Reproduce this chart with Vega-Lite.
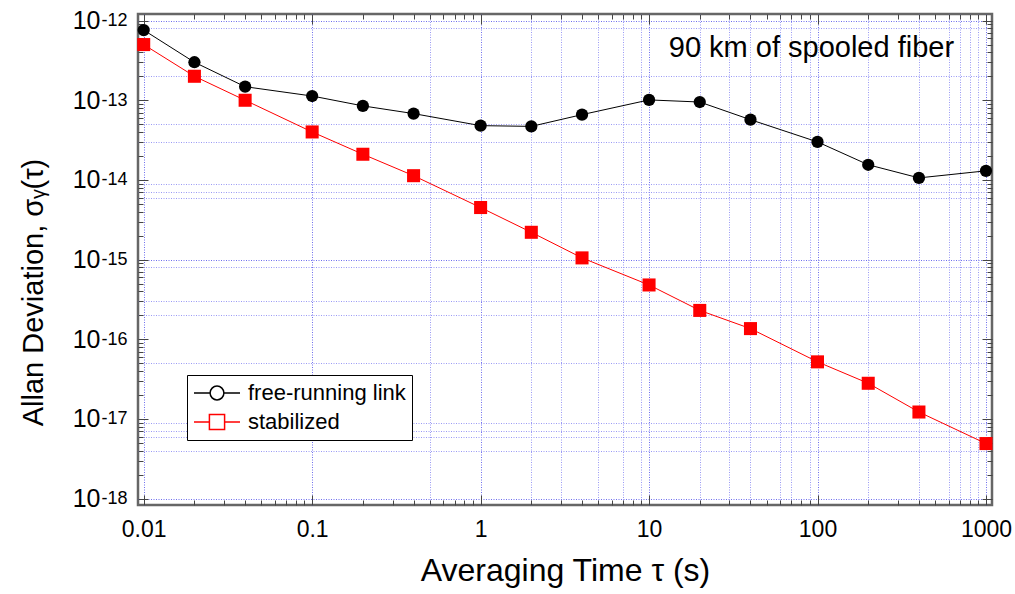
{
  "$schema": "https://vega.github.io/schema/vega-lite/v6.json",
  "width": 854,
  "height": 491,
  "autosize": {"type": "none"},
  "padding": {"left": 138, "top": 14, "right": 23, "bottom": 89},
  "background": "white",
  "config": {
    "font": "Liberation Sans",
    "view": {"stroke": "#666666", "strokeWidth": 2.5}
  },
  "data": {
    "values": [
      {"tau": 0.01, "sigma": 7.6e-13, "series": "free-running link"},
      {"tau": 0.02, "sigma": 3.0e-13, "series": "free-running link"},
      {"tau": 0.04, "sigma": 1.48e-13, "series": "free-running link"},
      {"tau": 0.1, "sigma": 1.13e-13, "series": "free-running link"},
      {"tau": 0.2, "sigma": 8.5e-14, "series": "free-running link"},
      {"tau": 0.4, "sigma": 6.8e-14, "series": "free-running link"},
      {"tau": 1, "sigma": 4.8e-14, "series": "free-running link"},
      {"tau": 2, "sigma": 4.7e-14, "series": "free-running link"},
      {"tau": 4, "sigma": 6.6e-14, "series": "free-running link"},
      {"tau": 10, "sigma": 1.01e-13, "series": "free-running link"},
      {"tau": 20, "sigma": 9.5e-14, "series": "free-running link"},
      {"tau": 40, "sigma": 5.7e-14, "series": "free-running link"},
      {"tau": 100, "sigma": 3.0e-14, "series": "free-running link"},
      {"tau": 200, "sigma": 1.55e-14, "series": "free-running link"},
      {"tau": 400, "sigma": 1.06e-14, "series": "free-running link"},
      {"tau": 1000, "sigma": 1.3e-14, "series": "free-running link"},
      {"tau": 0.01, "sigma": 5.0e-13, "series": "stabilized"},
      {"tau": 0.02, "sigma": 2.0e-13, "series": "stabilized"},
      {"tau": 0.04, "sigma": 1.0e-13, "series": "stabilized"},
      {"tau": 0.1, "sigma": 4.0e-14, "series": "stabilized"},
      {"tau": 0.2, "sigma": 2.1e-14, "series": "stabilized"},
      {"tau": 0.4, "sigma": 1.13e-14, "series": "stabilized"},
      {"tau": 1, "sigma": 4.5e-15, "series": "stabilized"},
      {"tau": 2, "sigma": 2.2e-15, "series": "stabilized"},
      {"tau": 4, "sigma": 1.05e-15, "series": "stabilized"},
      {"tau": 10, "sigma": 4.8e-16, "series": "stabilized"},
      {"tau": 20, "sigma": 2.3e-16, "series": "stabilized"},
      {"tau": 40, "sigma": 1.36e-16, "series": "stabilized"},
      {"tau": 100, "sigma": 5.2e-17, "series": "stabilized"},
      {"tau": 200, "sigma": 2.8e-17, "series": "stabilized"},
      {"tau": 400, "sigma": 1.22e-17, "series": "stabilized"},
      {"tau": 1000, "sigma": 4.9e-18, "series": "stabilized"}
    ]
  },
  "resolve": {"axis": {"x": "independent", "y": "independent"}},
  "layer": [
    {
      "transform": [{"filter": "datum.series === 'free-running link'"}],
      "mark": {"type": "line", "strokeWidth": 1, "clip": true, "color": "black"},
      "encoding": {
        "x": {
          "field": "tau", "type": "quantitative",
          "scale": {"type": "log", "domain": [0.00925, 1086], "nice": false},
          "axis": {
            "orient": "bottom",
            "title": "Averaging Time τ (s)",
            "titleFontSize": 32, "titleFontWeight": "normal", "titleColor": "black", "titlePadding": 9,
            "values": [0.01,0.02,0.03,0.04,0.05,0.06,0.07,0.08,0.09,0.1,0.2,0.3,0.4,0.5,0.6,0.7,0.8,0.9,1,2,3,4,5,6,7,8,9,10,20,30,40,50,60,70,80,90,100,200,300,400,500,600,700,800,900,1000],
            "labelExpr": "abs(log(datum.value)/LN10 - round(log(datum.value)/LN10)) < 1e-6 ? format(datum.value, '~g') : ''",
            "labelFontSize": 23, "labelColor": "black", "labelPadding": 23, "labelFlush": false, "labelOverlap": false,
            "domain": false,
            "grid": true,
            "gridColor": {"condition": {"test": "abs(log(datum.value)/LN10 - round(log(datum.value)/LN10)) < 1e-6", "value": "#6f6fee"}, "value": "#9a9af5"},
            "gridOpacity": {"condition": {"test": "indexof([0.01,0.1,0.5,1,2,3,5,7,9,10,20,30,40,60,70,90,100,200,400,600,700,800,900,1000], datum.value) >= 0", "value": 1}, "value": 0},
            "gridDash": [1, 1.5],
            "gridWidth": 1,
            "tickColor": "#444444",
            "tickSize": {"condition": {"test": "abs(log(datum.value)/LN10 - round(log(datum.value)/LN10)) < 1e-6", "value": -10}, "value": -5},
            "tickWidth": 1
          }
        },
        "y": {
          "field": "sigma", "type": "quantitative",
          "scale": {"type": "log", "domain": [8.3e-19, 1.21e-12], "nice": false},
          "axis": {
            "orient": "left",
            "title": "Allan Deviation, σᵧ(τ)",
            "titleFontSize": 29, "titleFontWeight": "normal", "titleColor": "black", "titlePadding": 24, "titleY": 278,
            "values": [1e-18,2e-18,3e-18,4e-18,5e-18,6e-18,7e-18,8e-18,9e-18,1e-17,2e-17,3e-17,4e-17,5e-17,6e-17,7e-17,8e-17,9e-17,1e-16,2e-16,3e-16,4e-16,5e-16,6e-16,7e-16,8e-16,9e-16,1e-15,2e-15,3e-15,4e-15,5e-15,6e-15,7e-15,8e-15,9e-15,1e-14,2e-14,3e-14,4e-14,5e-14,6e-14,7e-14,8e-14,9e-14,1e-13,2e-13,3e-13,4e-13,5e-13,6e-13,7e-13,8e-13,9e-13,1e-12],
            "labelExpr": "abs(log(datum.value)/LN10 - round(log(datum.value)/LN10)) < 1e-6 ? '10' : ''",
            "labelFontSize": 25, "labelColor": "black", "labelPadding": 48, "labelFlush": false, "labelOverlap": false, "labelBaseline": "middle",
            "domain": false,
            "grid": true,
            "gridColor": {"condition": {"test": "abs(log(datum.value)/LN10 - round(log(datum.value)/LN10)) < 1e-6", "value": "#6f6fee"}, "value": "#9a9af5"},
            "gridOpacity": {"condition": {"test": "indexof([1e-12,8e-13,2e-13,5e-14,3e-14,9e-15,7e-15,6e-15,1e-15,8e-16,3e-16,2e-16,5e-17,9e-18,7e-18,6e-18,4e-18,1e-18], datum.value) >= 0", "value": 1}, "value": 0},
            "gridDash": [1, 1.5],
            "gridWidth": 1,
            "tickColor": "#444444",
            "tickSize": {"condition": {"test": "abs(log(datum.value)/LN10 - round(log(datum.value)/LN10)) < 1e-6", "value": -10}, "value": -5},
            "tickWidth": 1
          }
        }
      }
    },
    {
      "transform": [{"filter": "datum.series === 'stabilized'"}],
      "mark": {"type": "line", "strokeWidth": 1, "clip": true, "color": "red"},
      "encoding": {
        "x": {"field": "tau", "type": "quantitative", "axis": null},
        "y": {"field": "sigma", "type": "quantitative", "axis": null}
      }
    },
    {
      "transform": [{"filter": "datum.series === 'free-running link'"}],
      "mark": {"type": "point", "shape": "circle", "filled": true, "opacity": 1, "size": 150, "color": "black"},
      "encoding": {
        "x": {"field": "tau", "type": "quantitative", "axis": null},
        "y": {"field": "sigma", "type": "quantitative", "axis": null}
      }
    },
    {
      "transform": [{"filter": "datum.series === 'stabilized'"}],
      "mark": {"type": "point", "shape": "square", "filled": true, "opacity": 1, "size": 170, "color": "red"},
      "encoding": {
        "x": {"field": "tau", "type": "quantitative", "axis": null},
        "y": {"field": "sigma", "type": "quantitative", "axis": null}
      }
    },
    {
      "mark": {"type": "point", "filled": true, "opacity": 0, "strokeWidth": 1.5},
      "encoding": {
        "x": {"field": "tau", "type": "quantitative", "axis": null},
        "y": {"field": "sigma", "type": "quantitative", "axis": null},
        "color": {
          "field": "series", "type": "nominal",
          "scale": {"domain": ["free-running link", "stabilized"], "range": ["black", "red"]},
          "legend": {
            "title": null, "orient": "none", "legendX": 49, "legendY": 361,
            "strokeColor": "black", "padding": 6, "fillColor": "white",
            "labelFontSize": 22, "labelColor": "black", "labelFont": "Liberation Sans",
            "symbolSize": 2116, "rowPadding": 5, "labelOffset": 7, "clipHeight": 24,
            "symbolOpacity": 1, "symbolStrokeWidth": 1.5
          }
        },
        "stroke": {
          "field": "series", "type": "nominal",
          "scale": {"domain": ["free-running link", "stabilized"], "range": ["black", "red"]}
        },
        "shape": {
          "field": "series", "type": "nominal",
          "scale": {"domain": ["free-running link", "stabilized"], "range": ["M-1,0L-0.3,0M0.3,0L1,0M-0.3,0A0.3,0.3 0 1,1 0.3,0A0.3,0.3 0 1,1 -0.3,0Z", "M-1,0L-0.33,0M0.33,0L1,0M-0.33,-0.33L0.33,-0.33L0.33,0.33L-0.33,0.33Z"]}
        }
      }
    },
    {
      "mark": {"type": "point", "opacity": 0},
      "encoding": {
        "x": {
          "field": "tau", "type": "quantitative",
          "axis": {
            "orient": "top", "title": null, "labels": false, "grid": false, "domain": false,
            "values": [0.01,0.02,0.03,0.04,0.05,0.06,0.07,0.08,0.09,0.1,0.2,0.3,0.4,0.5,0.6,0.7,0.8,0.9,1,2,3,4,5,6,7,8,9,10,20,30,40,50,60,70,80,90,100,200,300,400,500,600,700,800,900,1000],
            "tickColor": "#444444",
            "tickSize": {"condition": {"test": "abs(log(datum.value)/LN10 - round(log(datum.value)/LN10)) < 1e-6", "value": -10}, "value": -5}
          }
        },
        "y": {
          "field": "sigma", "type": "quantitative",
          "axis": {
            "orient": "left", "title": null, "grid": false, "domain": false, "ticks": false,
            "values": [1e-18,1e-17,1e-16,1e-15,1e-14,1e-13,1e-12],
            "labelExpr": "'-' + format(-round(log(datum.value)/LN10), 'd')",
            "labelFontSize": 18, "labelColor": "black", "labelPadding": 11, "labelDy": -11, "labelFlush": false, "labelOverlap": false, "labelBaseline": "middle", "labelAlign": "right"
          }
        }
      }
    },
    {
      "mark": {"type": "point", "opacity": 0},
      "encoding": {
        "x": {"field": "tau", "type": "quantitative", "axis": null},
        "y": {
          "field": "sigma", "type": "quantitative",
          "axis": {
            "orient": "right", "title": null, "labels": false, "grid": false, "domain": false,
            "values": [1e-18,2e-18,3e-18,4e-18,5e-18,6e-18,7e-18,8e-18,9e-18,1e-17,2e-17,3e-17,4e-17,5e-17,6e-17,7e-17,8e-17,9e-17,1e-16,2e-16,3e-16,4e-16,5e-16,6e-16,7e-16,8e-16,9e-16,1e-15,2e-15,3e-15,4e-15,5e-15,6e-15,7e-15,8e-15,9e-15,1e-14,2e-14,3e-14,4e-14,5e-14,6e-14,7e-14,8e-14,9e-14,1e-13,2e-13,3e-13,4e-13,5e-13,6e-13,7e-13,8e-13,9e-13,1e-12],
            "tickColor": "#444444",
            "tickSize": {"condition": {"test": "abs(log(datum.value)/LN10 - round(log(datum.value)/LN10)) < 1e-6", "value": -10}, "value": -5}
          }
        }
      }
    },
    {
      "data": {"values": [{"label": "90 km of spooled fiber", "tau": 92, "sigma": 4.5e-13}]},
      "mark": {"type": "text", "fontSize": 29, "align": "center", "baseline": "middle", "color": "black", "font": "Liberation Sans"},
      "encoding": {
        "x": {"field": "tau", "type": "quantitative", "axis": null},
        "y": {"field": "sigma", "type": "quantitative", "axis": null},
        "text": {"field": "label"}
      }
    }
  ]
}
